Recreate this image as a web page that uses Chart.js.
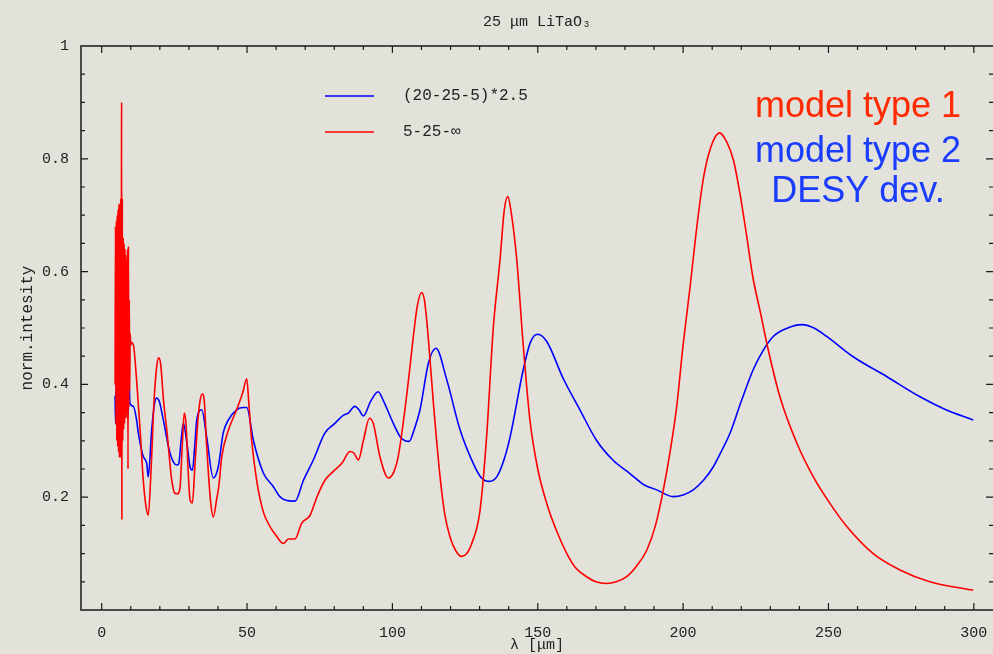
<!DOCTYPE html>
<html>
<head>
<meta charset="utf-8">
<script src="https://cdn.jsdelivr.net/npm/chart.js@4"></script>
<style>
  html, body { margin: 0; padding: 0; background: #e2e1da; }
  #wrap { width: 993px; height: 654px; }
</style>
</head>
<body>
<div id="wrap"><canvas id="chart" width="993" height="654"></canvas></div>
<script>
// 5-25-inf (model type 1)
const redX = [4.6, 4.75, 4.9, 5.05, 5.2, 5.35, 5.5, 5.65, 5.8, 5.95, 6.1, 6.25, 6.4, 6.55, 6.7, 6.85, 6.95,
  7.1, 7.25, 7.4, 7.55, 7.7, 7.85, 8.0, 8.15, 8.3, 8.45, 8.6, 8.75, 8.9, 9.05, 9.2, 9.35, 9.5, 9.65, 9.8, 10.0,
  10.3, 10.9, 12.0, 13.2, 14.3, 15.2, 16.0, 17.0, 18.0, 19.0, 19.6, 20.3, 21.3, 22.4, 24.1, 25.2, 26.0, 26.9,
  27.7, 28.4, 29.0, 29.8, 30.4, 31.2, 32.0, 33.0, 33.8, 34.6, 35.3, 36.0, 36.7, 37.5, 38.4, 39.5, 40.3, 41.3,
  43.6, 46.4, 48.5, 49.9, 50.7, 51.6, 53.3, 55.6, 57.9, 60.0, 62.5, 64.2, 66.5, 68.8, 71.7, 74.0, 76.8, 79.5,
  82.6, 85.4, 86.8, 88.3, 90.0, 92.1, 93.4, 95.7, 98.6, 100.5, 102.0, 104.3, 105.8, 107.2, 108.6, 110.1, 111.0,
  111.8, 113.0, 114.1, 116.4, 118.0, 119.8, 121.8, 123.8, 125.6, 127.3, 130.1, 132.4, 134.7, 137.0, 138.5,
  139.7, 141.0, 142.8, 145.0, 147.3, 150.0, 153.1, 156.5, 160.0, 163.0, 166.8, 170.0, 173.7, 177.0, 180.6,
  184.0, 187.5, 190.5, 193.2, 195.5, 197.8, 200.0, 202.4, 204.5, 206.9, 209.5, 212.5, 215.0, 217.3, 219.5,
  221.9, 224.0, 226.4, 229.3, 233.3, 239.1, 244.8, 250.5, 256.3, 265.4, 274.6, 284.9, 299.8];
const redY = [0.40, 0.68, 0.33, 0.69, 0.30, 0.70, 0.29, 0.71, 0.28, 0.72, 0.27, 0.72, 0.27, 0.73, 0.28, 0.90, 0.16,
  0.73, 0.30, 0.66, 0.32, 0.65, 0.33, 0.64, 0.34, 0.63, 0.35, 0.62, 0.34, 0.64, 0.25, 0.645, 0.36, 0.55, 0.39, 0.49, 0.47,
  0.474, 0.47, 0.408, 0.32, 0.23, 0.185, 0.168, 0.25, 0.37, 0.435, 0.447, 0.435, 0.37, 0.319, 0.23, 0.207, 0.206, 0.215,
  0.29, 0.349, 0.33, 0.24, 0.195, 0.19, 0.25, 0.33, 0.37, 0.383, 0.37, 0.30, 0.243, 0.19, 0.165, 0.195, 0.22, 0.272,
  0.319, 0.355, 0.385, 0.41, 0.36, 0.30, 0.23, 0.174, 0.148, 0.132, 0.118, 0.126, 0.126, 0.154, 0.168, 0.20, 0.23, 0.245,
  0.26, 0.281, 0.278, 0.266, 0.30, 0.34, 0.331, 0.272, 0.234, 0.245, 0.272, 0.355, 0.42, 0.485, 0.54, 0.563, 0.55,
  0.514, 0.44, 0.367, 0.236, 0.17, 0.130, 0.105, 0.095, 0.10, 0.118, 0.175, 0.307, 0.50, 0.62, 0.71,
  0.733, 0.70, 0.62, 0.47, 0.337, 0.25, 0.189, 0.14, 0.10, 0.075, 0.059, 0.05, 0.047, 0.05, 0.059,
  0.078, 0.106, 0.15, 0.213, 0.28, 0.361, 0.47, 0.573, 0.67, 0.763, 0.82, 0.846, 0.83, 0.798, 0.74,
  0.662, 0.59, 0.532, 0.461, 0.378, 0.296, 0.236, 0.189, 0.148, 0.10, 0.071, 0.050, 0.035];

// (20-25-5)*2.5 (model type 2)
const blueX = [4.6, 4.8, 5.0, 5.3, 5.6, 5.9, 6.2, 6.5, 6.8, 7.1, 7.5, 8.0, 8.5, 9.0, 9.5, 9.7, 10.9, 12.0, 12.6,
  14.3, 15.5, 16.0, 17.2, 18.0, 18.8, 19.8, 21.2, 23.5, 25.8, 26.5, 27.3, 28.1, 29.2, 30.4, 31.2, 32.0, 32.7, 34.4,
  36.1, 38.4, 40.1, 41.8, 43.6, 46.4, 48.7, 49.9, 52.2, 55.6, 59.0, 61.3, 63.1, 66.5, 69.4, 72.8, 76.8, 80.0, 83.1,
  84.8, 87.1, 88.5, 90.0, 92.5, 95.1, 97.0, 100.3, 103.0, 105.8, 107.5, 109.5, 112.4, 115.0, 118.7, 123.3, 127.8,
  130.5, 133.3, 135.9, 138.3, 140.5, 145.0, 147.5, 150.0, 153.1, 158.8, 164.5, 170.3, 176.0, 181.7, 186.5, 190.9,
  196.6, 200.0, 203.5, 207.0, 210.4, 213.5, 216.1, 220.0, 224.1, 227.5, 231.0, 236.0, 240.8, 245.0, 249.4, 258.5,
  270.0, 281.5, 290.0, 299.8];
const blueY = [0.38, 0.33, 0.40, 0.34, 0.39, 0.35, 0.38, 0.34, 0.37, 0.35, 0.37, 0.35, 0.37, 0.34, 0.397, 0.367, 0.361, 0.337, 0.314,
  0.272, 0.26, 0.236, 0.319, 0.36, 0.376, 0.37, 0.337, 0.278, 0.257, 0.259, 0.30, 0.331, 0.30, 0.254, 0.248, 0.29, 0.337, 0.355,
  0.307, 0.234, 0.254, 0.314, 0.337, 0.355, 0.359, 0.359, 0.30, 0.243, 0.219, 0.201, 0.195, 0.193, 0.23, 0.266, 0.314, 0.33, 0.345,
  0.349, 0.361, 0.355, 0.344, 0.37, 0.387, 0.37, 0.331, 0.305, 0.299, 0.32, 0.355, 0.438, 0.464, 0.408, 0.319, 0.26,
  0.235, 0.228, 0.236, 0.265, 0.307, 0.426, 0.475, 0.489, 0.476, 0.41, 0.355, 0.30, 0.265, 0.242, 0.222, 0.213,
  0.201, 0.204, 0.213, 0.23, 0.254, 0.285, 0.313, 0.37, 0.426, 0.46, 0.485, 0.50, 0.506, 0.50, 0.485, 0.449,
  0.414, 0.378, 0.356, 0.337];

const xTicks = [0, 50, 100, 150, 200, 250, 300];
const yTicks = [0.2, 0.4, 0.6, 0.8, 1];
const seriesNames = ['(20-25-5)*2.5', '5-25-\u221e'];
const notes = ['model type 1', 'model type 2', 'DESY dev.'];

const mono = "'Liberation Mono', 'DejaVu Sans Mono', monospace";
const sans = "'Liberation Sans', Arial, Helvetica, sans-serif";

function toPoints(xs, ys) {
  return xs.map((x, i) => ({ x: x, y: ys[i] }));
}

const decor = {
  id: 'decor',
  beforeDraw(chart) {
    const ctx = chart.ctx;
    ctx.save();
    ctx.fillStyle = '#e2e1da';
    ctx.fillRect(0, 0, chart.width, chart.height);
    ctx.restore();
  },
  afterDraw(chart) {
    const ctx = chart.ctx;
    const a = chart.chartArea;
    const xs = chart.scales.x;
    const ys = chart.scales.y;
    ctx.save();
    ctx.strokeStyle = '#1a1a1a';
    ctx.lineWidth = 1.5;
    ctx.strokeRect(a.left, a.top, a.right - a.left + 2, a.bottom - a.top);

    ctx.lineWidth = 1.2;
    ctx.beginPath();
    for (let v = 0; v <= 300; v += 10) {
      const px = xs.getPixelForValue(v);
      const len = v % 50 === 0 ? 7 : 4;
      ctx.moveTo(px, a.bottom); ctx.lineTo(px, a.bottom - len);
      ctx.moveTo(px, a.top); ctx.lineTo(px, a.top + len);
    }
    for (let i = 1; i < 20; i++) {
      const v = i * 0.05;
      const py = ys.getPixelForValue(v);
      const len = i % 4 === 0 ? 7 : 4;
      ctx.moveTo(a.left, py); ctx.lineTo(a.left + len, py);
      ctx.moveTo(a.right, py); ctx.lineTo(a.right - len, py);
    }
    ctx.stroke();

    // title
    ctx.fillStyle = '#222';
    ctx.font = '15px ' + mono;
    ctx.textAlign = 'center';
    ctx.textBaseline = 'middle';
    ctx.fillText('25 \u03bcm LiTaO\u2083', (a.left + a.right) / 2, 22);

    // legend
    const colors = ['#0000ff', '#ff0000'];
    const rows = [96, 132];
    ctx.font = '16px ' + mono;
    ctx.textAlign = 'left';
    rows.forEach((y, i) => {
      ctx.strokeStyle = colors[i];
      ctx.lineWidth = 1.6;
      ctx.beginPath();
      ctx.moveTo(325, y); ctx.lineTo(374, y);
      ctx.stroke();
      ctx.fillStyle = '#222';
      ctx.fillText(seriesNames[i], 403, y);
    });

    // annotations
    ctx.font = '36px ' + sans;
    ctx.textAlign = 'center';
    ctx.textBaseline = 'alphabetic';
    const noteColors = ['#ff2a00', '#1a3cff', '#1a3cff'];
    const baselines = [117, 162, 202];
    notes.forEach((t, i) => {
      ctx.fillStyle = noteColors[i];
      ctx.fillText(t, 858, baselines[i]);
    });
    ctx.restore();
  }
};

new Chart(document.getElementById('chart'), {
  type: 'line',
  data: {
    datasets: [
      {
        label: seriesNames[1],
        data: toPoints(redX, redY),
        borderColor: '#ff0000',
        borderWidth: 1.6,
        pointRadius: 0,
        cubicInterpolationMode: 'monotone',
        fill: false
      },
      {
        label: seriesNames[0],
        data: toPoints(blueX, blueY),
        borderColor: '#0000ff',
        borderWidth: 1.6,
        pointRadius: 0,
        cubicInterpolationMode: 'monotone',
        fill: false
      }
    ]
  },
  options: {
    responsive: false,
    animation: false,
    layout: { padding: { top: 46, right: 0, bottom: 0, left: 0 } },
    plugins: {
      legend: { display: false },
      title: { display: false },
      tooltip: { enabled: false }
    },
    scales: {
      x: {
        type: 'linear',
        min: -7.12,
        max: 306.6,
        grid: { display: false, drawTicks: false },
        border: { display: false },
        afterBuildTicks: s => { s.ticks = xTicks.map(v => ({ value: v })); },
        afterFit: s => { s.height = 44; s.paddingLeft = 0; s.paddingRight = 0; },
        ticks: {
          color: '#222',
          font: { family: mono, size: 15 },
          padding: 14,
          maxRotation: 0,
          autoSkip: false,
          callback: v => String(v)
        },
        title: {
          display: true,
          text: '\u03bb [\u03bcm]',
          color: '#222',
          font: { family: mono, size: 15 },
          padding: { top: 0, bottom: 0 }
        }
      },
      y: {
        type: 'linear',
        min: 0,
        max: 1,
        grid: { display: false, drawTicks: false },
        border: { display: false },
        afterBuildTicks: s => { s.ticks = yTicks.map(v => ({ value: v })); },
        afterFit: s => { s.width = 81; s.paddingTop = 0; s.paddingBottom = 0; },
        ticks: {
          color: '#222',
          font: { family: mono, size: 15 },
          padding: 12,
          autoSkip: false,
          callback: v => (v === 1 ? '1' : v.toFixed(1))
        },
        title: {
          display: true,
          text: 'norm.intesity',
          color: '#222',
          font: { family: mono, size: 16 },
          padding: { top: 18, bottom: 0 }
        }
      }
    }
  },
  plugins: [decor]
});
</script>
</body>
</html>
